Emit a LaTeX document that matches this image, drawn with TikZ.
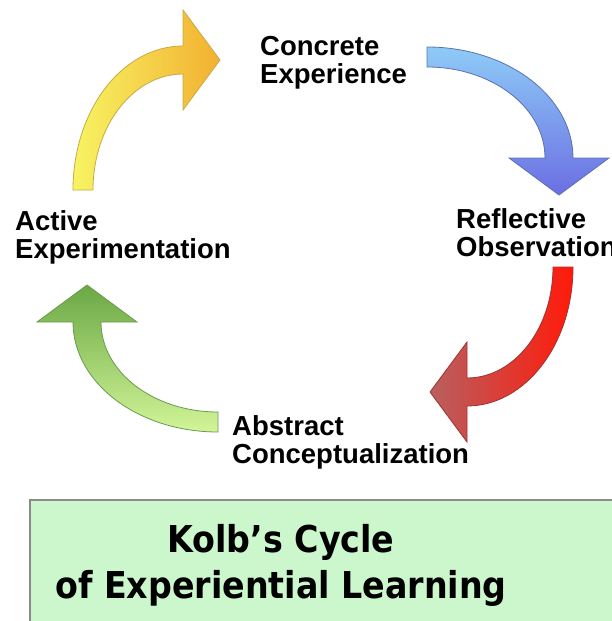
\documentclass[tikz,border=0pt]{standalone}
\usepackage{fontspec}
\setmainfont{Liberation Sans}
\newfontfamily\titlefont{DejaVu Sans Condensed Bold}
\usepackage{tikz}
\usetikzlibrary{positioning}
\definecolor{yellowtail}{RGB}{248,244,100}
\definecolor{yellowhead}{RGB}{242,176,48}
\definecolor{yellowedge}{RGB}{200,170,70}
\definecolor{bluetail}{RGB}{142,203,247}
\definecolor{bluehead}{RGB}{107,111,227}
\definecolor{blueedge}{RGB}{90,115,175}
\definecolor{redtail}{RGB}{255,26,10}
\definecolor{redhead}{RGB}{184,96,96}
\definecolor{rededge}{RGB}{160,50,50}
\definecolor{greentail}{RGB}{210,245,152}
\definecolor{greenhead}{RGB}{107,168,69}
\definecolor{greenedge}{RGB}{105,155,80}
\definecolor{boxfill}{RGB}{204,247,204}
\definecolor{boxedge}{RGB}{138,138,138}

\begin{document}
\begin{tikzpicture}[x=1pt, y=-1pt]
    \tikzstyle{stage} = [anchor=north west, align=left, inner sep=0pt, font=\fontsize{27.5}{28.5}\selectfont\bfseries]
    \tikzstyle{title} = [align=center, inner sep=0pt, font=\titlefont\fontsize{37}{46}\selectfont]
    \tikzstyle{bigarrow} = [line width=0.8pt, line join=miter]
    \tikzstyle{titlebox} = [draw=boxedge, fill=boxfill, line width=1.6pt]

    \useasboundingbox (0,0) rectangle (612,621);
    \clip (0,0) rectangle (612,621);

    % Stages of the cycle
    \node [stage] (concrete) at (260,36) {Concrete\\Experience};
    \node [stage] (reflective) at (456,208) {Reflective\\Observation};
    \node [stage] (abstract) at (232,415) {Abstract\\Conceptualization};
    \node [stage] (active) at (15,210) {Active\\Experimentation};

    % Curved arrows
    \draw [bigarrow, draw=yellowedge, left color=yellowtail, right color=yellowhead]
        (73,190) arc [start angle=180, end angle=270, x radius=110, y radius=144]
        -- (183,10) -- (220,60) -- (183,110) -- (183,74)
        arc [start angle=270, end angle=180, x radius=90, y radius=116] -- cycle;
    \draw [bigarrow, draw=blueedge, top color=bluetail, bottom color=bluehead]
        (427,47) arc [start angle=270, end angle=360, x radius=146, y radius=111]
        -- (609,158) -- (559,195) -- (509,158) -- (545,158)
        arc [start angle=360, end angle=270, x radius=118, y radius=91] -- cycle;
    \draw [bigarrow, draw=rededge, left color=redhead, right color=redtail]
        (573,267) arc [start angle=0, end angle=90, x radius=106, y radius=139]
        -- (467,442) -- (430,392) -- (467,342) -- (467,378)
        arc [start angle=90, end angle=0, x radius=86, y radius=111] -- cycle;
    \draw [bigarrow, draw=greenedge, top color=greenhead, bottom color=greentail]
        (218,432) arc [start angle=90, end angle=180, x radius=145, y radius=110]
        -- (37,322) -- (87,285) -- (137,322) -- (101,322)
        arc [start angle=180, end angle=90, x radius=117, y radius=90] -- cycle;

    % Title
    \draw [titlebox] (30,500) rectangle (640,650);
    \node [title] (title) at (281,565) {Kolb’s Cycle\\of Experiential Learning};
\end{tikzpicture}
\end{document}
